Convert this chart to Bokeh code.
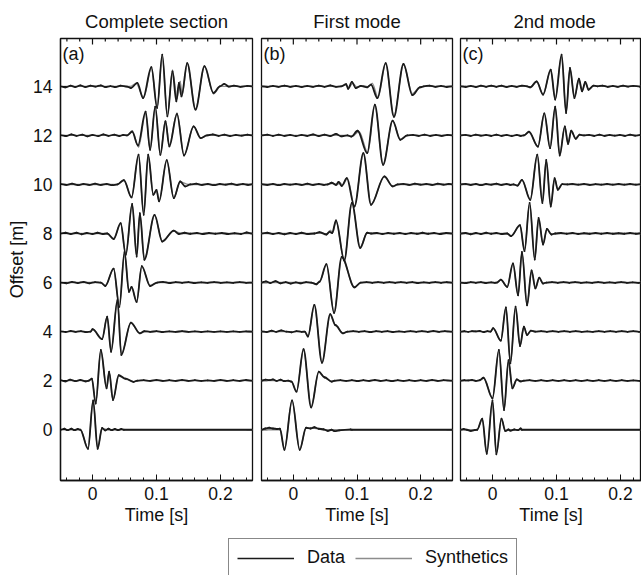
import numpy as np
from bokeh.plotting import figure
from bokeh.models import Range1d, LinearAxis, SingleIntervalTicker, FixedTicker, Legend, LegendItem, Label
from bokeh.layouts import column, row
from bokeh.embed import file_html
from bokeh.resources import INLINE

FONT = "Liberation Sans"
OFFSETS = [0, 2, 4, 6, 8, 10, 12, 14]
PANEL_TITLES = ["Complete section", "First mode", "2nd mode"]
PANEL_TAGS = ["(a)", "(b)", "(c)"]
X_LABEL = "Time [s]"
Y_LABEL = "Offset [m]"
LEGEND_LABELS = ["Data", "Synthetics"]

# ---------------- Panel (a): complete section, data traces (time [s], amplitude) ----------------
A_DATA_0 = [(-0.050,0),(-0.044,0.04),(-0.039,-0.02),(-0.033,0.04),(-0.028,-0.02),(-0.023,0.03),(-0.019,0),(-0.007,-0.78),(0.001,1.20),(0.008,-0.78),(0.015,0.07),(0.020,-0.03),(0.025,0.04),(0.030,-0.02),(0.035,0.03),(0.040,-0.02),(0.045,0.03),(0.049,0),(0.250,0)]
A_DATA_2 = [(-0.050,0.02),(-0.042,-0.03),(-0.035,0.04),(-0.027,-0.02),(-0.019,0.03),(-0.011,-0.03),(-0.006,0),(-0.001,0.08),(0.005,-0.93),(0.013,1.25),(0.022,-0.31),(0.026,0.37),(0.032,-0.79),(0.041,0.22),(0.052,0.08),(0.064,-0.05),(0.070,0),(0.080,0.02),(0.090,-0.01),(0.100,0.03),(0.110,-0.01),(0.120,0.02),(0.130,-0.01),(0.140,0.03),(0.150,-0.01),(0.160,0.02),(0.170,-0.01),(0.180,0.01),(0.190,-0.01),(0.200,0.03),(0.210,-0.01),(0.220,0.02),(0.230,-0.01),(0.240,0.03),(0.250,0)]
A_DATA_4 = [(-0.050,0.01),(-0.042,-0.02),(-0.034,0.03),(-0.026,-0.01),(-0.018,0.02),(-0.010,-0.02),(-0.003,0),(0.000,0.10),(0.015,-0.31),(0.023,0.61),(0.029,-0.82),(0.039,1.29),(0.045,-0.95),(0.060,0.37),(0.074,-0.07),(0.081,0.02),(0.090,-0.01),(0.100,0.02),(0.110,-0.02),(0.120,0.01),(0.130,-0.01),(0.140,0.02),(0.150,-0.01),(0.160,0.01),(0.170,-0.02),(0.180,0.01),(0.190,-0.01),(0.200,0.01),(0.210,-0.01),(0.220,0.01),(0.230,-0.01),(0.240,0.01),(0.250,0)]
A_DATA_6 = [(-0.050,0),(-0.041,-0.03),(-0.032,0.03),(-0.023,-0.02),(-0.014,0.03),(-0.005,-0.03),(0.004,0.02),(0.013,0),(0.020,-0.14),(0.033,0.57),(0.042,-0.99),(0.050,1.25),(0.057,-0.38),(0.061,-0.18),(0.069,-0.79),(0.077,0.67),(0.090,-0.14),(0.101,0),(0.110,0.03),(0.120,-0.02),(0.130,0.02),(0.140,-0.01),(0.150,0.02),(0.160,-0.02),(0.170,0.01),(0.180,-0.01),(0.190,0.02),(0.200,-0.01),(0.210,0.01),(0.220,-0.01),(0.230,0.02),(0.240,-0.01),(0.250,0)]
A_DATA_8 = [(-0.050,0),(-0.042,0.03),(-0.034,-0.02),(-0.025,0.03),(-0.017,-0.03),(-0.009,0.02),(0.000,-0.02),(0.008,0.03),(0.016,-0.02),(0.023,0),(0.033,-0.23),(0.044,0.42),(0.052,-0.87),(0.062,1.21),(0.069,-0.94),(0.074,0.83),(0.081,-1.07),(0.097,0.76),(0.109,-0.33),(0.127,0.12),(0.135,-0.02),(0.144,0.03),(0.153,-0.01),(0.163,0.02),(0.172,-0.02),(0.182,0.02),(0.192,-0.01),(0.202,0.02),(0.212,-0.02),(0.222,0.01),(0.232,-0.02),(0.241,0.04),(0.250,0)]
A_DATA_10 = [(-0.050,0.02),(-0.041,-0.02),(-0.032,0.03),(-0.023,-0.03),(-0.014,0.02),(-0.005,-0.02),(0.004,0.03),(0.013,-0.02),(0.022,0.02),(0.031,-0.03),(0.039,0),(0.049,0.18),(0.061,-0.53),(0.072,1.21),(0.080,-1.24),(0.087,1.21),(0.095,-0.42),(0.100,-0.22),(0.104,-0.69),(0.116,0.99),(0.127,-0.56),(0.137,0.12),(0.145,-0.08),(0.153,0),(0.162,0.03),(0.171,-0.02),(0.180,0.02),(0.190,-0.03),(0.199,0.02),(0.208,-0.01),(0.217,0.03),(0.226,-0.02),(0.235,0.02),(0.243,-0.02),(0.250,0.01)]
A_DATA_12 = [(-0.050,0.01),(-0.041,-0.03),(-0.033,0.04),(-0.025,-0.02),(-0.016,0.03),(-0.008,-0.04),(0.000,0.02),(0.009,-0.03),(0.017,0.04),(0.025,-0.02),(0.034,0.03),(0.042,-0.03),(0.048,0.02),(0.054,0),(0.062,0.15),(0.071,-0.41),(0.083,0.97),(0.090,-0.59),(0.098,1.17),(0.106,-0.79),(0.114,0.57),(0.120,-0.45),(0.132,0.87),(0.143,-0.82),(0.158,0.37),(0.169,-0.11),(0.179,0),(0.188,0.04),(0.197,-0.02),(0.206,0.03),(0.215,-0.03),(0.224,0.02),(0.233,-0.01),(0.242,0.03),(0.250,0)]
A_DATA_14 = [(-0.050,0),(-0.042,-0.04),(-0.034,0.03),(-0.027,-0.03),(-0.019,0.04),(-0.011,-0.03),(-0.003,0.03),(0.005,-0.01),(0.013,0.04),(0.020,-0.03),(0.028,0.01),(0.036,-0.03),(0.044,0.03),(0.054,-0.01),(0.060,-0.07),(0.070,0.14),(0.079,-0.48),(0.092,0.78),(0.101,-0.88),(0.109,1.29),(0.117,-1.22),(0.125,0.61),(0.131,-0.61),(0.135,0.14),(0.139,-0.41),(0.148,0.95),(0.161,-0.95),(0.175,0.82),(0.189,-0.27),(0.199,0),(0.206,0.10),(0.213,-0.01),(0.221,0.03),(0.231,-0.02),(0.242,0.02),(0.250,0)]

A_SYN_0 = [(-0.05,0),(-0.019,0),(-0.007,-0.75),(0.001,1.16),(0.008,-0.75),(0.015,0.05),(0.025,0),(0.25,0)]
A_SYN_2 = [(-0.05,0),(-0.006,0),(-0.001,0.06),(0.005,-0.90),(0.013,1.21),(0.022,-0.29),(0.026,0.34),(0.032,-0.76),(0.041,0.20),(0.052,0.06),(0.064,-0.04),(0.072,0),(0.25,0)]
A_SYN_4 = [(-0.05,0),(-0.003,0),(0.001,0.08),(0.015,-0.29),(0.023,0.58),(0.029,-0.79),(0.039,1.25),(0.045,-0.92),(0.060,0.35),(0.074,-0.06),(0.085,0),(0.25,0)]
A_SYN_6 = [(-0.05,0),(0.013,0),(0.020,-0.12),(0.033,0.55),(0.042,-0.96),(0.050,1.21),(0.057,-0.36),(0.061,-0.20),(0.069,-0.76),(0.077,0.64),(0.090,-0.12),(0.101,0),(0.25,0)]
A_SYN_8 = [(-0.05,0),(0.023,0),(0.033,-0.20),(0.044,0.40),(0.052,-0.84),(0.062,1.18),(0.069,-0.90),(0.074,0.80),(0.081,-1.04),(0.097,0.73),(0.109,-0.30),(0.127,0.10),(0.140,0),(0.25,0)]
A_SYN_10 = [(-0.05,0),(0.039,0),(0.049,0.16),(0.061,-0.50),(0.072,1.17),(0.080,-1.20),(0.087,1.17),(0.095,-0.40),(0.100,-0.25),(0.104,-0.66),(0.116,0.96),(0.127,-0.53),(0.137,0.10),(0.150,0),(0.25,0)]
A_SYN_12 = [(-0.05,0),(0.054,0),(0.062,0.19),(0.072,-0.47),(0.083,0.93),(0.090,-0.55),(0.098,1.13),(0.106,-0.75),(0.114,0.60),(0.120,-0.40),(0.132,0.90),(0.143,-0.80),(0.158,0.36),(0.169,-0.12),(0.179,0),(0.25,0)]
A_SYN_14 = [(-0.05,0),(0.060,0),(0.068,0.12),(0.080,-0.45),(0.092,0.74),(0.101,-0.85),(0.109,1.24),(0.117,-1.18),(0.125,0.66),(0.132,-0.50),(0.137,0.20),(0.140,-0.36),(0.148,0.92),(0.161,-0.92),(0.175,0.80),(0.189,-0.30),(0.200,0),(0.25,0)]

# ---------------- Panel (b): first mode ----------------
B_DATA_0 = [(-0.050,0),(-0.044,0.05),(-0.038,0.08),(-0.032,0.05),(-0.025,0.03),(-0.021,0.04),(-0.014,-0.82),(-0.002,1.20),(0.010,-0.82),(0.020,0.08),(0.027,0.05),(0.033,0.10),(0.040,0.04),(0.047,0.02),(0.054,-0.05),(0.060,0),(0.065,-0.06),(0.072,-0.03),(0.090,0.01),(0.092,0),(0.250,0)]
B_DATA_2 = [(-0.050,0),(-0.044,0.04),(-0.038,0.02),(-0.032,0.05),(-0.026,-0.01),(-0.020,0.04),(-0.014,-0.02),(-0.008,0),(-0.003,-0.04),(0.005,-0.45),(0.016,1.28),(0.028,-1.09),(0.040,0.37),(0.049,0.14),(0.060,-0.04),(0.065,0),(0.074,0.02),(0.083,-0.01),(0.092,0.02),(0.101,-0.02),(0.110,0.02),(0.119,-0.01),(0.128,0.03),(0.137,-0.01),(0.146,0.02),(0.155,-0.02),(0.164,0.02),(0.173,-0.01),(0.182,0.02),(0.191,-0.01),(0.200,0.02),(0.209,-0.01),(0.218,0.03),(0.227,-0.01),(0.236,0.02),(0.250,0)]
B_DATA_4 = [(-0.050,0.01),(-0.042,-0.02),(-0.034,0.04),(-0.027,-0.01),(-0.019,0.05),(-0.011,0),(-0.003,-0.03),(0.005,0.02),(0.013,-0.01),(0.018,0),(0.023,-0.20),(0.033,1.09),(0.045,-1.27),(0.058,0.71),(0.066,0.27),(0.078,-0.07),(0.085,0),(0.094,0.02),(0.103,-0.01),(0.112,0.02),(0.121,-0.02),(0.130,0.02),(0.139,-0.01),(0.148,0.02),(0.157,-0.02),(0.166,0.01),(0.175,-0.01),(0.184,0.02),(0.193,-0.01),(0.202,0.02),(0.211,-0.01),(0.220,0.03),(0.229,-0.01),(0.238,0.02),(0.250,0)]
B_DATA_6 = [(-0.050,0),(-0.043,0.05),(-0.036,-0.02),(-0.028,0.06),(-0.020,-0.03),(-0.012,0.02),(-0.004,-0.04),(0.004,0.01),(0.012,-0.03),(0.020,0.02),(0.028,0),(0.036,-0.07),(0.041,0.03),(0.052,0.75),(0.064,-1.24),(0.076,1.05),(0.096,-0.20),(0.106,0),(0.115,0.02),(0.124,-0.01),(0.133,0.02),(0.142,-0.01),(0.151,0.02),(0.160,-0.01),(0.169,0.02),(0.178,-0.01),(0.187,0.02),(0.196,-0.02),(0.205,0.01),(0.214,-0.01),(0.223,0.02),(0.232,-0.01),(0.241,0.02),(0.250,0)]
B_DATA_8 = [(-0.050,0),(-0.041,0.03),(-0.032,-0.02),(-0.023,0.02),(-0.014,-0.03),(-0.005,0.02),(0.004,-0.02),(0.013,0.03),(0.022,-0.02),(0.033,0),(0.041,0.05),(0.052,-0.04),(0.057,0.07),(0.061,0.02),(0.067,0.53),(0.080,-1.10),(0.092,1.25),(0.105,-0.59),(0.116,0.03),(0.122,0),(0.131,0.02),(0.140,-0.02),(0.149,0.02),(0.158,-0.01),(0.167,0.02),(0.176,-0.02),(0.185,0.02),(0.194,-0.01),(0.203,0.03),(0.212,-0.01),(0.221,0.02),(0.230,-0.02),(0.240,0.02),(0.250,0)]
B_DATA_10 = [(-0.050,0.01),(-0.041,-0.02),(-0.032,0.02),(-0.023,-0.03),(-0.014,0.02),(-0.005,-0.01),(0.004,0.02),(0.013,-0.02),(0.022,0.03),(0.031,-0.02),(0.040,0.02),(0.048,-0.02),(0.054,0),(0.060,0.07),(0.067,-0.02),(0.071,0.10),(0.076,-0.06),(0.084,0.26),(0.096,-0.90),(0.110,1.28),(0.122,-0.83),(0.143,0.33),(0.156,-0.08),(0.164,0),(0.173,0.02),(0.182,-0.02),(0.191,0.03),(0.200,-0.01),(0.209,0.02),(0.218,-0.02),(0.227,0.03),(0.236,-0.01),(0.244,0.02),(0.250,0)]
B_DATA_12 = [(-0.050,0),(-0.041,0.03),(-0.032,-0.02),(-0.023,0.03),(-0.014,-0.02),(-0.005,0.02),(0.004,-0.03),(0.013,0.02),(0.022,-0.02),(0.031,0.04),(0.040,-0.03),(0.049,0.03),(0.058,-0.03),(0.067,0.06),(0.075,-0.04),(0.085,0),(0.091,-0.05),(0.101,0.19),(0.116,-0.72),(0.128,1.25),(0.141,-1.20),(0.156,0.60),(0.168,-0.18),(0.179,0),(0.188,0.02),(0.197,-0.02),(0.206,0.03),(0.215,-0.02),(0.224,0.02),(0.233,-0.02),(0.242,0.02),(0.250,0)]
B_DATA_14 = [(-0.050,0),(-0.041,-0.03),(-0.032,0.02),(-0.023,-0.02),(-0.014,0.03),(-0.005,-0.02),(0.004,0.02),(0.013,-0.03),(0.022,0.02),(0.031,-0.02),(0.040,0.03),(0.049,-0.02),(0.058,0.04),(0.067,-0.02),(0.075,0),(0.083,0.09),(0.086,-0.10),(0.092,0.18),(0.098,-0.07),(0.106,0.02),(0.116,-0.04),(0.122,0.07),(0.132,-0.48),(0.145,0.95),(0.158,-1.24),(0.173,0.91),(0.187,-0.36),(0.199,-0.04),(0.205,0),(0.214,0.03),(0.223,-0.02),(0.232,0.02),(0.241,-0.03),(0.250,0)]

B_SYN_0 = [(-0.05,0),(-0.021,0),(-0.014,-0.79),(-0.002,1.17),(0.010,-0.79),(0.020,0.06),(0.033,0.06),(0.047,0),(0.25,0)]
B_SYN_2 = [(-0.05,0),(-0.008,0),(-0.003,-0.03),(0.005,-0.42),(0.016,1.25),(0.028,-1.06),(0.040,0.35),(0.049,0.12),(0.060,-0.03),(0.065,0),(0.25,0)]
B_SYN_4 = [(-0.05,0),(0.018,0),(0.023,-0.18),(0.033,1.06),(0.045,-1.24),(0.058,0.68),(0.066,0.25),(0.078,-0.06),(0.085,0),(0.25,0)]
B_SYN_6 = [(-0.05,0),(0.028,0),(0.036,-0.05),(0.042,0.08),(0.052,0.72),(0.064,-1.21),(0.076,1.02),(0.096,-0.18),(0.106,0),(0.25,0)]
B_SYN_8 = [(-0.05,0),(0.033,0),(0.043,0.03),(0.052,-0.02),(0.058,0.12),(0.062,0.05),(0.067,0.50),(0.080,-1.07),(0.092,1.22),(0.105,-0.56),(0.116,0.03),(0.122,0),(0.25,0)]
B_SYN_10 = [(-0.05,0),(0.054,0),(0.062,0.05),(0.069,0.0),(0.073,0.08),(0.077,-0.04),(0.085,0.24),(0.096,-0.87),(0.110,1.25),(0.122,-0.80),(0.143,0.31),(0.156,-0.07),(0.164,0),(0.25,0)]
B_SYN_12 = [(-0.05,0),(0.085,0),(0.093,-0.03),(0.103,0.16),(0.117,-0.70),(0.128,1.22),(0.141,-1.17),(0.156,0.58),(0.168,-0.16),(0.179,0),(0.25,0)]
B_SYN_14 = [(-0.05,0),(0.075,0),(0.083,0.06),(0.087,-0.06),(0.093,0.12),(0.100,-0.03),(0.110,0.03),(0.117,-0.02),(0.124,0.12),(0.133,-0.45),(0.145,0.92),(0.158,-1.20),(0.173,0.88),(0.187,-0.30),(0.199,-0.03),(0.205,0),(0.25,0)]

# ---------------- Panel (c): second mode ----------------
C_DATA_0 = [(-0.050,0),(-0.045,0.03),(-0.040,0),(-0.034,-0.05),(-0.028,-0.02),(-0.024,0),(-0.016,0.45),(-0.009,-0.98),(0.000,1.20),(0.006,-1.00),(0.014,0.45),(0.020,-0.05),(0.025,0.01),(0.028,-0.04),(0.034,0.01),(0.040,-0.02),(0.044,0.05),(0.046,0),(0.250,0)]
C_DATA_2 = [(-0.050,0),(-0.044,0.02),(-0.038,0.01),(-0.032,0.03),(-0.026,-0.01),(-0.020,0.02),(-0.014,0.12),(0.000,-0.72),(0.010,1.25),(0.018,-1.20),(0.025,0.84),(0.031,-0.31),(0.038,0.05),(0.044,-0.03),(0.049,0),(0.058,0.02),(0.067,-0.01),(0.076,0.02),(0.085,-0.01),(0.094,0.02),(0.103,-0.01),(0.112,0.02),(0.121,-0.01),(0.130,0.02),(0.139,-0.01),(0.148,0.02),(0.157,-0.01),(0.166,0.02),(0.175,-0.01),(0.184,0.02),(0.193,-0.01),(0.202,0.02),(0.211,-0.01),(0.220,0.01),(0.230,-0.01),(0.240,0.01),(0.250,0)]
C_DATA_4 = [(-0.050,0),(-0.044,0.02),(-0.038,-0.01),(-0.032,0.02),(-0.026,0.01),(-0.020,0.03),(-0.014,-0.02),(-0.008,0.02),(-0.003,0),(0.001,0.14),(0.013,-0.37),(0.021,0.99),(0.028,-1.29),(0.036,1.02),(0.043,-0.59),(0.049,0.20),(0.054,-0.14),(0.060,0.04),(0.067,0),(0.076,0.02),(0.085,-0.01),(0.094,0.02),(0.103,-0.01),(0.112,0.02),(0.121,-0.01),(0.130,0.02),(0.139,-0.01),(0.148,0.01),(0.157,-0.01),(0.166,0.02),(0.175,-0.01),(0.184,0.02),(0.193,-0.01),(0.202,0.02),(0.211,-0.01),(0.220,0.02),(0.229,-0.01),(0.238,0.02),(0.250,0)]
C_DATA_6 = [(-0.050,0),(-0.042,-0.02),(-0.034,0.02),(-0.026,-0.01),(-0.018,0.02),(-0.010,-0.02),(-0.002,0.01),(0.004,-0.01),(0.007,0),(0.013,0.12),(0.023,-0.18),(0.032,0.78),(0.040,-0.52),(0.046,1.25),(0.054,-0.93),(0.061,0.50),(0.067,-0.24),(0.073,0.20),(0.079,-0.04),(0.084,0),(0.093,0.02),(0.102,-0.01),(0.111,0.02),(0.120,-0.01),(0.129,0.02),(0.138,-0.01),(0.147,0.01),(0.156,-0.01),(0.165,0.02),(0.174,-0.01),(0.183,0.01),(0.192,-0.01),(0.201,0.02),(0.210,-0.01),(0.219,0.01),(0.228,-0.01),(0.237,0.01),(0.250,0)]
C_DATA_8 = [(-0.050,0),(-0.042,0.02),(-0.034,-0.03),(-0.026,0.02),(-0.018,-0.02),(-0.010,0.03),(-0.002,-0.01),(0.006,0.02),(0.014,-0.02),(0.023,0),(0.029,-0.11),(0.043,0.34),(0.050,-0.72),(0.058,1.25),(0.066,-1.06),(0.072,0.64),(0.079,-0.45),(0.085,0.19),(0.092,-0.04),(0.098,0),(0.107,0.02),(0.116,-0.01),(0.125,0.02),(0.134,-0.02),(0.143,0.01),(0.152,-0.01),(0.161,0.02),(0.170,-0.01),(0.179,0.02),(0.188,-0.01),(0.197,0.01),(0.206,-0.01),(0.215,0.02),(0.224,-0.01),(0.233,0.01),(0.242,-0.01),(0.250,0)]
C_DATA_10 = [(-0.050,0),(-0.042,0.02),(-0.034,-0.02),(-0.026,0.02),(-0.018,-0.03),(-0.010,0.02),(-0.002,-0.01),(0.006,0.03),(0.014,-0.02),(0.022,0.02),(0.028,-0.02),(0.033,0),(0.039,-0.05),(0.046,0.19),(0.059,-0.63),(0.070,1.21),(0.078,-0.76),(0.084,1.00),(0.091,-0.90),(0.097,0.26),(0.102,-0.22),(0.109,0.01),(0.117,0),(0.125,0.02),(0.134,-0.01),(0.143,0.02),(0.152,-0.02),(0.161,0.01),(0.170,-0.01),(0.179,0.02),(0.188,-0.01),(0.197,0.02),(0.206,-0.01),(0.215,0.02),(0.224,-0.01),(0.233,0.01),(0.241,-0.01),(0.250,0)]
C_DATA_12 = [(-0.050,0),(-0.042,0.02),(-0.034,-0.02),(-0.026,0.03),(-0.018,-0.01),(-0.010,0.02),(-0.002,-0.02),(0.006,0.03),(0.014,-0.02),(0.022,0.02),(0.030,-0.03),(0.038,0.02),(0.044,-0.02),(0.049,0),(0.057,0.15),(0.071,-0.46),(0.081,0.90),(0.090,-0.52),(0.098,1.17),(0.105,-0.82),(0.113,0.37),(0.118,-0.35),(0.123,0.19),(0.130,-0.14),(0.136,0.03),(0.143,0),(0.151,0.02),(0.159,-0.02),(0.167,0.03),(0.175,-0.02),(0.183,0.02),(0.191,-0.01),(0.199,0.02),(0.207,-0.02),(0.215,0.03),(0.223,-0.01),(0.231,0.02),(0.240,-0.01),(0.250,0)]
C_DATA_14 = [(-0.050,0),(-0.042,-0.03),(-0.034,0.02),(-0.026,-0.03),(-0.018,0.03),(-0.010,-0.02),(-0.002,0.03),(0.006,-0.02),(0.014,0.03),(0.022,-0.03),(0.030,0.02),(0.038,-0.02),(0.046,0.03),(0.054,0),(0.059,-0.04),(0.069,0.20),(0.079,-0.34),(0.091,0.68),(0.098,-0.54),(0.108,1.29),(0.115,-1.09),(0.121,0.75),(0.128,-0.48),(0.135,0.31),(0.140,-0.20),(0.145,0.18),(0.150,-0.14),(0.158,0.03),(0.164,0),(0.172,0.03),(0.180,-0.02),(0.188,0.02),(0.196,-0.02),(0.204,0.03),(0.212,-0.01),(0.220,0.02),(0.230,-0.01),(0.240,0.01),(0.250,0)]

C_SYN_0 = [(-0.05,0),(-0.024,0),(-0.016,0.42),(-0.009,-0.95),(0.000,1.17),(0.006,-0.97),(0.014,0.42),(0.020,-0.04),(0.028,0),(0.25,0)]
C_SYN_2 = [(-0.05,0),(-0.020,0),(-0.014,0.10),(0.000,-0.69),(0.010,1.22),(0.018,-1.17),(0.025,0.81),(0.031,-0.29),(0.038,0.04),(0.044,-0.02),(0.049,0),(0.25,0)]
C_SYN_4 = [(-0.05,0),(-0.003,0),(0.001,0.12),(0.013,-0.35),(0.021,0.96),(0.028,-1.26),(0.036,0.99),(0.043,-0.56),(0.049,0.18),(0.054,-0.12),(0.060,0.03),(0.067,0),(0.25,0)]
C_SYN_6 = [(-0.05,0),(0.007,0),(0.013,0.10),(0.023,-0.16),(0.032,0.75),(0.040,-0.50),(0.046,1.22),(0.054,-0.90),(0.061,0.47),(0.067,-0.22),(0.073,0.17),(0.079,-0.03),(0.084,0),(0.25,0)]
C_SYN_8 = [(-0.05,0),(0.023,0),(0.029,-0.09),(0.043,0.32),(0.050,-0.69),(0.058,1.22),(0.066,-1.03),(0.072,0.61),(0.079,-0.42),(0.085,0.17),(0.092,-0.03),(0.098,0),(0.25,0)]
C_SYN_10 = [(-0.05,0),(0.033,0),(0.039,-0.04),(0.046,0.17),(0.059,-0.60),(0.070,1.18),(0.078,-0.73),(0.084,0.97),(0.091,-0.87),(0.097,0.24),(0.102,-0.19),(0.109,0.01),(0.117,0),(0.25,0)]
C_SYN_12 = [(-0.05,0),(0.049,0),(0.057,0.13),(0.071,-0.44),(0.081,0.87),(0.090,-0.50),(0.098,1.14),(0.105,-0.79),(0.113,0.35),(0.118,-0.32),(0.123,0.16),(0.130,-0.11),(0.136,0.02),(0.143,0),(0.25,0)]
C_SYN_14 = [(-0.05,0),(0.054,0),(0.059,-0.03),(0.069,0.18),(0.079,-0.32),(0.091,0.65),(0.098,-0.51),(0.108,1.25),(0.115,-1.06),(0.121,0.72),(0.128,-0.45),(0.135,0.28),(0.140,-0.18),(0.145,0.15),(0.150,-0.11),(0.158,0.02),(0.164,0),(0.25,0)]

PANEL_DATA = [
    [A_DATA_0, A_DATA_2, A_DATA_4, A_DATA_6, A_DATA_8, A_DATA_10, A_DATA_12, A_DATA_14],
    [B_DATA_0, B_DATA_2, B_DATA_4, B_DATA_6, B_DATA_8, B_DATA_10, B_DATA_12, B_DATA_14],
    [C_DATA_0, C_DATA_2, C_DATA_4, C_DATA_6, C_DATA_8, C_DATA_10, C_DATA_12, C_DATA_14],
]
PANEL_SYN = [
    [A_SYN_0, A_SYN_2, A_SYN_4, A_SYN_6, A_SYN_8, A_SYN_10, A_SYN_12, A_SYN_14],
    [B_SYN_0, B_SYN_2, B_SYN_4, B_SYN_6, B_SYN_8, B_SYN_10, B_SYN_12, B_SYN_14],
    [C_SYN_0, C_SYN_2, C_SYN_4, C_SYN_6, C_SYN_8, C_SYN_10, C_SYN_12, C_SYN_14],
]

DATA_COLOR = "#1a1a1a"
SYN_COLOR = "#8c8c8c"
AXIS_COLOR = "#111111"
FIG_H = 527
Y0, Y1 = -2.07, 15.95
X0 = -0.05
FRAME_H = 444


def smooth_segments(pairs, off):
    """Cubic segments between successive read-off extrema, flat tangents at each extremum."""
    t = np.array([q[0] for q in pairs], dtype=float)
    a = np.array([q[1] for q in pairs], dtype=float) + off
    dt = t[1:] - t[:-1]
    return dict(x0=t[:-1], y0=a[:-1], x1=t[1:], y1=a[1:],
                cx0=t[:-1] + dt / 3, cy0=a[:-1], cx1=t[1:] - dt / 3, cy1=a[1:])


def make_panel(i, width, x_end, border_left, border_right, first, right_ticks):
    p = figure(width=width, height=FIG_H,
               x_range=Range1d(X0, x_end), y_range=Range1d(Y0, Y1),
               x_axis_type=None, y_axis_type=None,
               toolbar_location=None, output_backend="svg",
               min_border_left=border_left, min_border_right=border_right,
               min_border_top=38, min_border_bottom=45)
    frame_w = width - border_left - border_right
    ppx = frame_w / (x_end - X0)
    ppy = FRAME_H / (Y1 - Y0)
    p.outline_line_color = AXIS_COLOR
    p.outline_line_width = 1.3
    p.background_fill_color = "white"
    p.border_fill_color = "white"

    bottom = LinearAxis(ticker=SingleIntervalTicker(interval=0.1, num_minor_ticks=5))
    bottom.axis_line_color = AXIS_COLOR
    bottom.axis_line_width = 1.3
    bottom.major_tick_line_color = AXIS_COLOR
    bottom.minor_tick_line_color = AXIS_COLOR
    bottom.major_tick_in, bottom.major_tick_out = 6, 0
    bottom.minor_tick_in, bottom.minor_tick_out = 3, 0
    bottom.major_label_text_font = FONT
    bottom.major_label_text_font_size = "17.5px"
    bottom.major_label_text_color = "#111111"
    bottom.major_label_standoff = 6
    bottom.axis_label = X_LABEL
    bottom.axis_label_text_font = FONT
    bottom.axis_label_text_font_size = "18px"
    bottom.axis_label_text_font_style = "normal"
    bottom.axis_label_text_color = "#111111"
    bottom.axis_label_standoff = 2
    p.add_layout(bottom, "below")

    if first:
        left = LinearAxis(ticker=FixedTicker(ticks=OFFSETS, minor_ticks=[]))
        left.axis_line_color = AXIS_COLOR
        left.axis_line_width = 1.3
        left.major_tick_line_color = AXIS_COLOR
        left.major_tick_in, left.major_tick_out = 6, 0
        left.major_label_text_font = FONT
        left.major_label_text_font_size = "17.5px"
        left.major_label_text_color = "#111111"
        left.major_label_standoff = 8
        left.axis_label = Y_LABEL
        left.axis_label_text_font = FONT
        left.axis_label_text_font_size = "18px"
        left.axis_label_text_font_style = "normal"
        left.axis_label_text_color = "#111111"
        left.axis_label_standoff = 3
        p.add_layout(left, "left")

    # mirrored inward ticks (top, and left/right where no labelled axis exists)
    xt_major = [k / 10 for k in range(0, 3)]
    xt_minor = [round(k * 0.02, 3) for k in range(-2, 13) if k % 5 != 0]
    xt_minor = [v for v in xt_minor if X0 < v < x_end]
    seg = dict(x0=[], y0=[], x1=[], y1=[])
    for v in xt_major:
        seg["x0"].append(v); seg["x1"].append(v); seg["y0"].append(Y1); seg["y1"].append(Y1 - 6 / ppy)
    for v in xt_minor:
        seg["x0"].append(v); seg["x1"].append(v); seg["y0"].append(Y1); seg["y1"].append(Y1 - 3 / ppy)
    for off in OFFSETS:
        if not first:
            seg["x0"].append(X0); seg["x1"].append(X0 + 6 / ppx); seg["y0"].append(off); seg["y1"].append(off)
        if right_ticks:
            seg["x0"].append(x_end); seg["x1"].append(x_end - 6 / ppx); seg["y0"].append(off); seg["y1"].append(off)
    p.segment(x0="x0", y0="y0", x1="x1", y1="y1", source=seg, line_color=AXIS_COLOR, line_width=1.2)

    p.title.text = PANEL_TITLES[i]
    p.title.text_font = FONT
    p.title.text_font_size = "18.5px"
    p.title.text_font_style = "normal"
    p.title.text_color = "#111111"
    p.title.standoff = 14
    if i == 2:
        p.title.align = "left"
        p.title.offset = 53
    else:
        p.title.align = "center"

    for off, syn in zip(OFFSETS, PANEL_SYN[i]):
        p.bezier(source=smooth_segments(syn, off), x0="x0", y0="y0", x1="x1", y1="y1",
                 cx0="cx0", cy0="cy0", cx1="cx1", cy1="cy1",
                 line_color=SYN_COLOR, line_width=1.4, line_cap="round")
    for off, dat in zip(OFFSETS, PANEL_DATA[i]):
        p.bezier(source=smooth_segments(dat, off), x0="x0", y0="y0", x1="x1", y1="y1",
                 cx0="cx0", cy0="cy0", cx1="cx1", cy1="cy1",
                 line_color=DATA_COLOR, line_width=1.8, line_cap="round")

    p.add_layout(Label(x=X0 + 2 / ppx, y=Y1 - 6 / ppy, text=PANEL_TAGS[i], text_baseline="top",
                       text_font=FONT, text_font_size="18px", text_color="#111111"))
    return p


fa = make_panel(0, 256, 0.25, 60, 4, True, True)
fb = make_panel(1, 199, 0.25, 5, 3, False, True)
fc = make_panel(2, 186, X0 + 181 / 640, 5, 0, False, False)

# legend strip (its lower edge runs just past the bottom of the page, as in the reference)
fl = figure(width=641, height=48, x_range=Range1d(0, 1), y_range=Range1d(0, 1),
            x_axis_type=None, y_axis_type=None, toolbar_location=None,
            output_backend="svg", min_border=0)
fl.outline_line_color = None
r1 = fl.line([5, 6], [5, 6], line_color=DATA_COLOR, line_width=1.6)
r2 = fl.line([5, 6], [5, 6], line_color=SYN_COLOR, line_width=1.3)
leg = Legend(items=[LegendItem(label=LEGEND_LABELS[0], renderers=[r1]),
                    LegendItem(label=LEGEND_LABELS[1], renderers=[r2])],
             orientation="horizontal", location=(228, -2),
             glyph_width=57, glyph_height=20, label_standoff=13, spacing=10,
             padding=8, margin=0, label_height=20,
             label_text_font=FONT, label_text_font_size="18px", label_text_color="#111111",
             border_line_color="#111111", border_line_width=1.2,
             background_fill_color="white", background_fill_alpha=1.0)
fl.add_layout(leg, "center")

layout = column(row(fa, fb, fc, spacing=0), fl, spacing=0)
open("out.html", "w").write(file_html(layout, INLINE))
